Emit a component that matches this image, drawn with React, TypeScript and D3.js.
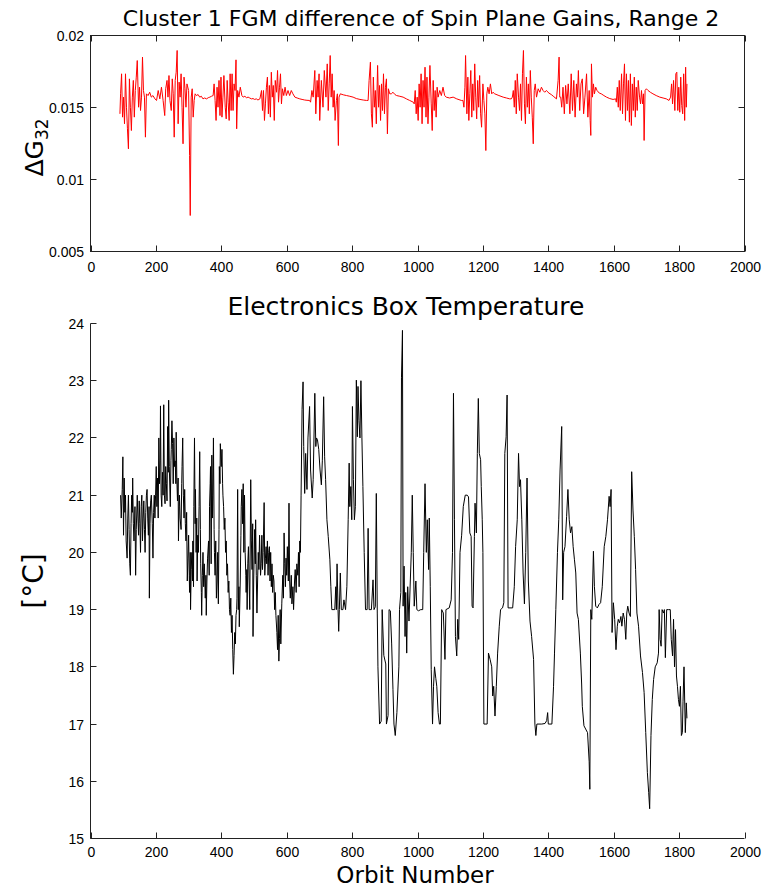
import React from "react";
import * as d3 from "d3";

// Orbit-number ticks shared by both panels
const orbitTicks = [0, 200, 400, 600, 800, 1000, 1200, 1400, 1600, 1800, 2000];
const gainTicks = [0.005, 0.01, 0.015, 0.02];
const gainTickLabels = ["0.005", "0.01", "0.015", "0.02"];
const tempTicks = [15, 16, 17, 18, 19, 20, 21, 22, 23, 24];

// Spin plane gain difference ΔG32 per orbit
const gainEarly: [number, number][] = [
  [90, 0.01456], [92, 0.01595], [95, 0.01734], [98, 0.01433], [101, 0.01572], [104, 0.01387], [107, 0.01734], [110, 0.01502],
  [113, 0.01352], [116, 0.01213], [119, 0.01699], [122, 0.01502], [125, 0.0134], [128, 0.01572], [131, 0.01688], [134, 0.01433],
  [137, 0.01618], [140, 0.01711], [143, 0.01826], [147, 0.01502], [150, 0.01641], [153, 0.01479], [156, 0.01572], [159, 0.0185],
  [162, 0.01618], [165, 0.01572], [168, 0.01294], [171, 0.01595], [176, 0.01583], [181, 0.01606], [186, 0.01572], [191, 0.01583],
  [197, 0.0156], [202, 0.01549], [207, 0.01618], [212, 0.0156], [217, 0.01641], [222, 0.01549], [227, 0.01444], [230, 0.0163],
  [234, 0.01688], [237, 0.01572], [240, 0.01722], [243, 0.01549], [247, 0.01479], [250, 0.01699], [253, 0.01595], [256, 0.01294],
  [259, 0.01688], [262, 0.01745], [265, 0.01896], [268, 0.01387], [271, 0.01676], [274, 0.01572], [277, 0.01734], [280, 0.01502],
  [283, 0.01248], [286, 0.01711], [289, 0.0163], [292, 0.01502], [295, 0.01664], [300, 0.01618], [303, 0.01167], [305, 0.0075],
  [308, 0.01572], [311, 0.0163], [314, 0.01433], [317, 0.01549], [320, 0.01595], [324, 0.01583], [329, 0.0159], [334, 0.01572],
  [339, 0.01578], [344, 0.0156], [349, 0.01566], [355, 0.0156], [360, 0.01568], [365, 0.01572], [370, 0.01578], [375, 0.01583],
  [378, 0.01664], [381, 0.01549], [384, 0.0141], [387, 0.01641], [390, 0.01502], [393, 0.01688], [396, 0.01444], [399, 0.01711],
  [402, 0.01433], [405, 0.01572], [408, 0.01722], [412, 0.01502], [415, 0.01421], [418, 0.01688], [421, 0.01537], [424, 0.0141],
  [427, 0.01734], [430, 0.01479], [433, 0.01734], [436, 0.01479], [439, 0.01664], [442, 0.01618], [445, 0.01831], [447, 0.01352],
  [450, 0.01618], [454, 0.01572], [458, 0.01641], [463, 0.01583], [467, 0.01572], [472, 0.01578], [477, 0.01568], [482, 0.01572],
  [487, 0.01566], [492, 0.0156], [497, 0.01562], [502, 0.01556], [507, 0.0156], [512, 0.01552],
  [518, 0.0156], [523, 0.01618], [526, 0.01479], [529, 0.01618], [532, 0.0141], [535, 0.01525], [538, 0.01641], [541, 0.01711],
  [544, 0.01456], [547, 0.01653], [550, 0.01433], [553, 0.01745], [556, 0.01572], [559, 0.01653], [562, 0.0141], [565, 0.01688],
  [569, 0.01606], [572, 0.01757], [575, 0.01537], [578, 0.01641], [581, 0.01734], [584, 0.01525], [587, 0.0163], [591, 0.01583],
  [595, 0.01641], [599, 0.01583], [604, 0.01618], [609, 0.01583], [614, 0.01618], [619, 0.01595], [625, 0.01572], [632, 0.01566],
  [640, 0.0156], [647, 0.01556], [655, 0.01552], [662, 0.0155], [670, 0.01549],
];

const gainMid: [number, number][] = [
  [673, 0.01537], [677, 0.01618], [681, 0.01572], [686, 0.01757], [689, 0.01456], [693, 0.01688], [696, 0.01572], [699, 0.01734],
  [701, 0.0141], [706, 0.01688], [711, 0.01502], [715, 0.01757], [720, 0.01572], [724, 0.01803], [727, 0.01479], [730, 0.01664],
  [733, 0.01861], [736, 0.01572], [739, 0.01734], [742, 0.01502], [745, 0.01618], [748, 0.0141], [752, 0.01549], [755, 0.01595],
  [758, 0.01236], [760, 0.01572], [764, 0.01595], [773, 0.01588], [783, 0.01583], [793, 0.01578], [803, 0.01572], [813, 0.01562],
  [824, 0.01556], [834, 0.01552], [844, 0.01549],
  [849, 0.01549], [852, 0.01688], [856, 0.01815], [859, 0.01456], [862, 0.01363], [865, 0.01711], [868, 0.01502], [871, 0.01618],
  [874, 0.01387], [878, 0.01792], [881, 0.01502], [884, 0.01653], [887, 0.0141], [890, 0.01664], [893, 0.01479], [896, 0.01734],
  [899, 0.01456], [902, 0.01641], [905, 0.01699], [908, 0.01317], [911, 0.0163], [915, 0.01595], [920, 0.01595], [925, 0.01606],
  [931, 0.0159], [936, 0.01583], [946, 0.01578], [956, 0.01572], [966, 0.0156], [976, 0.01549], [987, 0.01537],
  [990, 0.01525], [993, 0.01618], [996, 0.01456], [999, 0.01572], [1002, 0.0141], [1005, 0.01664], [1008, 0.01502], [1011, 0.01734],
  [1014, 0.01387], [1017, 0.01688], [1020, 0.01502], [1023, 0.0178], [1026, 0.01433], [1029, 0.01711], [1032, 0.01387], [1035, 0.01572],
  [1038, 0.01792], [1042, 0.01525], [1045, 0.0134], [1048, 0.01688], [1051, 0.01479], [1054, 0.01618], [1057, 0.01433], [1060, 0.01641],
  [1063, 0.01572], [1068, 0.01618], [1073, 0.01583], [1078, 0.01641], [1083, 0.01583], [1088, 0.01572], [1098, 0.01566], [1109, 0.01572],
  [1120, 0.0156], [1134, 0.01549],
  [1139, 0.01549], [1142, 0.01502], [1145, 0.01641], [1147, 0.01861], [1151, 0.01456], [1154, 0.01711], [1157, 0.0141], [1160, 0.01595],
  [1163, 0.01757], [1166, 0.01433], [1169, 0.01664], [1172, 0.01479], [1175, 0.01803], [1178, 0.01572], [1181, 0.01421], [1184, 0.01688],
  [1187, 0.01502], [1190, 0.01722], [1193, 0.01456], [1196, 0.01363], [1200, 0.01664], [1203, 0.01549], [1206, 0.01456], [1209, 0.01201],
  [1212, 0.01595], [1215, 0.01641], [1219, 0.01595], [1223, 0.01664], [1227, 0.01595], [1231, 0.01606], [1236, 0.01595], [1249, 0.01583],
  [1262, 0.01572], [1272, 0.01566], [1282, 0.0156],
];

const gainLate: [number, number][] = [
  [1287, 0.0156], [1290, 0.01572], [1293, 0.01618], [1296, 0.01502], [1299, 0.01688], [1302, 0.01456], [1305, 0.01734], [1309, 0.01572],
  [1312, 0.01479], [1315, 0.01664], [1318, 0.0141], [1321, 0.01734], [1324, 0.01896], [1327, 0.01525], [1330, 0.01387], [1333, 0.01711],
  [1336, 0.01502], [1339, 0.01664], [1342, 0.01456], [1345, 0.01757], [1348, 0.01572], [1351, 0.01433], [1354, 0.01248], [1357, 0.01618],
  [1360, 0.01664], [1364, 0.01572], [1369, 0.0163], [1374, 0.01606], [1379, 0.01641], [1384, 0.01618], [1389, 0.01606], [1394, 0.01618],
  [1402, 0.016], [1409, 0.0159], [1417, 0.01575], [1425, 0.0156],
  [1430, 0.01688], [1433, 0.0185], [1435, 0.01572], [1438, 0.01572], [1441, 0.01502], [1445, 0.01641], [1449, 0.01456], [1453, 0.01653],
  [1457, 0.01525], [1461, 0.01664], [1466, 0.01456], [1470, 0.01734], [1474, 0.01479], [1478, 0.01688], [1482, 0.01433], [1486, 0.01664],
  [1489, 0.01572], [1492, 0.01757], [1496, 0.01479], [1500, 0.01664], [1504, 0.01699], [1508, 0.01456], [1512, 0.01572], [1517, 0.01734],
  [1521, 0.01433], [1525, 0.01618], [1528, 0.0141], [1530, 0.01306], [1532, 0.01803], [1535, 0.01572], [1538, 0.01664], [1541, 0.01595],
  [1545, 0.01641], [1549, 0.01618], [1556, 0.016], [1562, 0.01595], [1570, 0.01583], [1578, 0.01572], [1588, 0.01562], [1598, 0.01556],
  [1606, 0.0156],
  [1608, 0.01537], [1611, 0.01641], [1614, 0.01502], [1617, 0.01688], [1620, 0.01479], [1624, 0.01734], [1627, 0.01456], [1630, 0.01664],
  [1633, 0.01803], [1636, 0.0141], [1639, 0.01734], [1642, 0.01479], [1645, 0.01688], [1648, 0.01398], [1651, 0.01734], [1654, 0.01375],
  [1657, 0.01664], [1660, 0.01479], [1663, 0.01711], [1666, 0.01433], [1669, 0.01641], [1672, 0.01479], [1675, 0.01688], [1679, 0.01572],
  [1682, 0.01525], [1685, 0.01618], [1688, 0.01525], [1691, 0.01595], [1693, 0.01271], [1696, 0.01618], [1700, 0.0163], [1705, 0.01618],
  [1712, 0.01606], [1720, 0.01595], [1730, 0.01583], [1741, 0.01572], [1751, 0.01566], [1761, 0.0156], [1769, 0.01549],
  [1774, 0.01572], [1777, 0.01664], [1780, 0.01525], [1783, 0.01688], [1787, 0.01479], [1790, 0.01734], [1793, 0.01745], [1796, 0.01479],
  [1799, 0.01641], [1802, 0.01467], [1805, 0.01711], [1808, 0.01514], [1811, 0.01456], [1814, 0.01734], [1817, 0.0141], [1820, 0.0178],
  [1822, 0.01502], [1824, 0.01664],
];

// Electronics box temperature (°C) per orbit
const tempEarly: [number, number][] = [
  [92, 21.0], [94, 20.6], [97, 21.1], [99, 21.67], [101, 20.3], [103, 21.3], [105, 20.7], [107, 21.0], [109, 20.2], [112, 19.9],
  [114, 20.6], [116, 21.0], [118, 20.4], [120, 19.8], [122, 19.6], [124, 20.5], [126, 21.0], [128, 20.7], [129, 21.3], [131, 20.5],
  [133, 20.2], [136, 20.8], [138, 19.6], [140, 20.4], [143, 21.0], [145, 20.6], [147, 20.3], [149, 20.9], [151, 20.5], [153, 20.0],
  [155, 20.8], [157, 21.0], [159, 20.2], [161, 20.6], [163, 20.9], [165, 20.4], [167, 20.0], [169, 20.7], [171, 21.0], [173, 21.1],
  [175, 20.6], [177, 20.3], [179, 20.8], [180, 19.2], [182, 20.5], [184, 20.9], [186, 21.0], [189, 20.5], [191, 19.9], [193, 20.7],
  [195, 21.0], [197, 20.6],
  [199, 21.0], [201, 21.5], [203, 20.8], [205, 21.3], [207, 20.6], [209, 22.0], [211, 21.2], [213, 21.6], [214, 22.56], [216, 21.0],
  [218, 20.8], [220, 21.4], [222, 21.0], [224, 22.58], [226, 21.0], [228, 20.85], [230, 21.5], [232, 21.2], [234, 20.9], [236, 22.2],
  [238, 21.4], [239, 22.66], [241, 21.5], [244, 20.8], [246, 21.6], [247, 21.8], [249, 22.3], [251, 21.9], [253, 21.2], [255, 22.0],
  [257, 21.5], [259, 21.6], [261, 21.2], [262, 22.1], [264, 21.3],
  [266, 20.9], [268, 21.3], [269, 20.2], [271, 20.8], [272, 21.0], [274, 20.6], [277, 20.4], [279, 21.2], [280, 21.5], [282, 22.0],
  [284, 21.0], [286, 20.6], [288, 21.1], [290, 20.5], [292, 20.2], [294, 20.7], [296, 19.5], [298, 19.9], [300, 20.3], [302, 19.6],
  [303, 19.3], [305, 20.0], [306, 19.0], [308, 19.7], [310, 20.0], [312, 19.5], [313, 20.2], [315, 19.4], [316, 20.8], [318, 22.0],
  [320, 20.5], [321, 21.1], [323, 20.0], [325, 20.6], [326, 19.5], [328, 20.3], [330, 20.0], [332, 20.8], [334, 21.76], [336, 20.4],
  [337, 19.8], [339, 19.3], [340, 18.9], [342, 19.6], [344, 20.0], [346, 19.4], [348, 19.8],
  [351, 19.2], [353, 19.6], [354, 18.9], [356, 19.5], [358, 19.9], [361, 20.2], [363, 19.6], [364, 20.8], [366, 21.2], [367, 21.5],
  [369, 19.8], [371, 21.7], [373, 20.6], [374, 21.0], [376, 22.0], [378, 20.4], [379, 20.0], [381, 19.6], [383, 20.2], [385, 19.2],
  [387, 19.5], [389, 20.0], [391, 19.1], [393, 20.4], [394, 21.5], [396, 21.2], [397, 21.9], [400, 21.5], [402, 21.8], [404, 21.2],
  [405, 21.0], [407, 20.8], [409, 20.4], [411, 20.6], [413, 20.0], [415, 20.2], [417, 19.6],
  [419, 19.8], [421, 19.3], [423, 19.5], [425, 19.0], [427, 18.9], [429, 19.2], [431, 18.6], [433, 18.9], [435, 18.3], [437, 17.87],
  [439, 18.2], [441, 18.6], [443, 18.4], [445, 18.9], [447, 19.0], [448, 19.2], [450, 21.1], [452, 19.0], [454, 19.4], [455, 18.7],
  [458, 19.5], [460, 20.3], [461, 20.8], [463, 21.1], [465, 20.5], [467, 21.2], [469, 20.0], [470, 20.6], [471, 21.0], [473, 20.0],
  [475, 19.6], [476, 19.3], [478, 19.7], [479, 19.0], [481, 19.8], [483, 20.1], [485, 19.5], [487, 19.0],
];

const tempMid: [number, number][] = [
  [490, 21.27], [492, 20.2], [494, 19.7], [496, 20.5], [497, 18.53], [499, 19.5], [502, 20.4], [504, 19.8], [505, 20.57], [507, 19.6],
  [509, 18.94], [511, 19.5], [513, 20.0], [515, 19.7], [517, 20.3], [520, 19.6], [522, 19.8], [524, 20.3], [526, 19.7], [528, 20.0],
  [531, 20.87], [533, 19.6], [535, 19.9], [537, 20.1], [539, 19.8], [541, 20.2], [543, 19.6], [545, 20.0], [547, 20.1], [549, 19.5],
  [551, 20.0], [553, 19.4], [555, 19.8], [557, 19.3], [559, 19.6], [561, 19.5], [563, 19.0], [565, 19.3], [567, 18.9], [570, 18.6],
  [572, 18.3], [574, 18.9], [576, 18.1], [578, 18.5], [580, 19.0], [582, 18.4], [585, 19.1], [588, 19.6], [590, 19.2], [592, 20.34],
  [594, 19.8], [596, 19.4], [598, 19.9], [600, 19.6], [602, 20.1], [605, 19.5], [607, 20.86], [609, 19.5], [611, 19.2], [614, 19.6],
  [616, 19.1], [619, 19.4], [621, 19.0], [624, 19.5], [626, 19.7], [629, 19.3], [631, 19.8], [634, 19.6], [636, 20.0], [638, 19.4],
  [640, 20.2], [642, 20.0], [644, 21.0], [647, 22.5], [650, 22.98],
  [652, 21.85], [655, 21.03], [658, 21.73], [662, 21.1], [665, 22.0], [670, 22.55], [673, 21.44], [678, 20.95], [681, 21.27], [686, 22.78],
  [689, 21.85], [691, 22.0], [694, 21.97], [698, 21.8], [702, 21.44], [706, 21.18], [709, 21.6], [713, 22.72], [716, 21.67], [719, 21.27],
  [723, 20.57], [727, 20.28], [732, 19.87], [735, 19.4], [738, 19.0], [747, 19.0], [750, 19.4], [752, 19.0], [754, 19.8], [757, 19.0],
  [759, 18.62], [761, 19.0], [764, 19.64], [767, 19.0], [772, 19.0], [775, 19.17], [780, 19.0], [784, 19.4], [788, 20.57], [791, 21.56],
  [793, 20.8], [796, 21.15], [799, 20.57], [801, 22.55], [804, 21.27], [807, 20.57], [810, 20.8], [813, 23.01], [816, 22.02], [818, 22.9],
  [821, 22.3], [824, 22.0], [827, 23.0], [830, 22.0], [833, 21.15], [837, 20.0], [841, 19.0], [846, 19.0], [849, 20.42], [852, 19.0],
  [859, 19.0], [864, 19.52], [867, 19.0], [871, 19.05], [874, 21.03], [877, 18.94], [879, 18.0], [884, 17.0], [889, 17.05], [892, 19.0],
  [897, 18.2], [903, 18.05], [905, 17.0], [910, 17.15], [913, 19.0], [917, 18.98], [921, 18.4], [925, 17.6], [928, 17.0], [932, 16.8],
  [937, 17.2], [943, 18.0], [945, 19.0], [949, 19.3], [951, 23.05], [954, 23.88], [956, 19.06], [959, 19.76], [962, 18.53], [964, 19.3],
  [967, 18.24], [970, 19.4], [974, 18.8], [978, 19.5], [981, 20.0], [984, 21.0], [987, 20.0], [990, 19.06], [995, 19.5], [998, 19.0],
  [1003, 18.98], [1010, 19.0], [1016, 19.0], [1019, 20.0], [1023, 21.2], [1027, 20.0], [1030, 20.57], [1034, 19.7], [1036, 20.6], [1039, 19.4],
  [1042, 17.95], [1046, 17.0], [1049, 17.66], [1052, 18.0], [1056, 17.8], [1059, 17.66], [1063, 17.2], [1067, 17.0], [1070, 17.0], [1074, 19.0],
  [1079, 18.94], [1084, 18.13], [1087, 19.0], [1097, 19.03], [1103, 19.17], [1107, 20.0], [1110, 22.78], [1113, 20.57], [1116, 18.53], [1120, 18.19],
  [1123, 18.83], [1126, 18.48], [1130, 20.0], [1135, 20.3], [1140, 20.8], [1146, 21.0], [1152, 21.0], [1156, 20.97], [1160, 20.34], [1164, 20.28],
  [1167, 19.06], [1170, 19.03], [1174, 20.28], [1176, 20.86], [1180, 20.34], [1183, 21.73], [1186, 22.69], [1189, 21.73], [1193, 21.62], [1195, 21.15],
  [1198, 20.57], [1200, 20.0],
];

const tempLate: [number, number][] = [
  [1203, 17.0], [1213, 17.0], [1217, 18.24], [1222, 18.13], [1227, 18.0], [1230, 17.49], [1233, 17.66], [1237, 17.14], [1241, 17.66], [1245, 18.24],
  [1250, 18.71], [1254, 19.0], [1260, 19.03], [1264, 19.12], [1267, 21.73], [1271, 22.02], [1274, 22.75], [1277, 19.03], [1291, 19.03], [1296, 19.4],
  [1300, 20.1], [1305, 20.57], [1309, 21.73], [1312, 21.15], [1315, 21.27], [1319, 20.57], [1323, 19.64], [1327, 19.1], [1331, 20.0], [1335, 21.3],
  [1339, 19.5], [1344, 18.8], [1349, 18.53], [1355, 18.13], [1359, 17.0], [1362, 16.8], [1365, 17.0], [1380, 17.0], [1390, 17.01], [1395, 17.06],
  [1398, 17.2], [1400, 17.0], [1411, 17.0], [1416, 17.66], [1419, 18.24], [1423, 19.0], [1428, 20.0], [1432, 20.57], [1436, 21.44], [1441, 22.2],
  [1444, 19.17], [1447, 20.0], [1451, 20.1], [1456, 20.63], [1460, 21.1], [1464, 20.57], [1468, 20.34], [1472, 20.45], [1476, 20.1], [1480, 19.87],
  [1484, 19.64], [1488, 18.94], [1492, 18.83], [1498, 18.24], [1502, 17.7], [1504, 17.31], [1509, 16.97], [1520, 16.85], [1525, 16.34], [1527, 15.86],
  [1530, 19.0], [1533, 18.83], [1538, 20.02], [1541, 19.4], [1545, 19.06], [1550, 19.03], [1555, 19.09], [1560, 19.12], [1565, 19.4], [1571, 20.1],
  [1576, 20.28], [1581, 20.57], [1586, 20.98], [1589, 20.8], [1592, 21.1], [1595, 18.6], [1599, 19.12], [1603, 18.83], [1607, 18.3], [1611, 18.71],
  [1614, 18.83], [1618, 18.77], [1622, 18.88], [1625, 18.71], [1629, 18.94], [1633, 18.83], [1637, 18.48], [1640, 18.94], [1643, 19.06], [1647, 18.94],
  [1651, 18.88], [1655, 21.41], [1659, 20.74], [1663, 20.28], [1667, 19.7], [1671, 18.94], [1676, 18.71], [1682, 18.19], [1688, 17.9], [1693, 17.55],
  [1698, 16.85], [1703, 16.15], [1707, 15.8], [1710, 15.52], [1714, 16.8], [1718, 17.43], [1722, 17.78], [1727, 18.0], [1733, 18.07], [1737, 18.24],
  [1739, 19.0], [1742, 18.48], [1745, 18.36], [1748, 19.0], [1752, 18.94], [1755, 19.0], [1758, 18.16], [1762, 19.0], [1768, 19.0], [1773, 19.0],
  [1776, 18.48], [1780, 18.19], [1783, 18.83], [1786, 18.0], [1789, 18.65], [1792, 17.84], [1795, 17.66], [1798, 17.43], [1801, 17.31], [1804, 17.66],
  [1807, 16.8], [1810, 16.85], [1812, 17.4], [1815, 18.0], [1819, 16.85], [1822, 17.37], [1824, 17.1],
];

const gainSeries = [...gainEarly, ...gainMid, ...gainLate];
const tempSeries = [...tempEarly, ...tempMid, ...tempLate];

const W = 762;
const H = 888;
const LEFT = 90.5;
const RIGHT = 744.5;
const TOP1 = 35.5;
const BOT1 = 251.5;
const TOP2 = 323.5;
const BOT2 = 838.5;
const TICK = 6;
const AXIS = "#222";
const TICK_FONT = "'Liberation Sans', Arial, sans-serif";
const TITLE_FONT = "'DejaVu Sans', Verdana, sans-serif";

export default function App() {
  const x = d3.scaleLinear().domain([0, 2000]).range([LEFT, RIGHT]);
  const yGain = d3.scaleLinear().domain([0.005, 0.02]).range([BOT1, TOP1]);
  const yTemp = d3.scaleLinear().domain([15, 24]).range([BOT2, TOP2]);

  const gainLine = d3
    .line<[number, number]>()
    .x((d) => x(d[0]))
    .y((d) => yGain(d[1]));
  const tempLine = d3
    .line<[number, number]>()
    .x((d) => x(d[0]))
    .y((d) => yTemp(d[1]));

  return (
    <svg
      width={W}
      height={H}
      viewBox={`0 0 ${W} ${H}`}
      style={{ position: "absolute", left: 0, top: 0, background: "#fff" }}
    >
      <rect x={0} y={0} width={W} height={H} fill="#fff" />

      {/* Upper panel: gain difference */}
      <text
        x={421}
        y={26}
        textAnchor="middle"
        fontFamily={TITLE_FONT}
        fontSize={22}
        fill="#000"
      >
        Cluster 1 FGM difference of Spin Plane Gains, Range 2
      </text>
      <path d={gainLine(gainSeries) ?? ""} fill="none" stroke="#ff0000" strokeWidth={1} />
      <rect x={LEFT} y={TOP1} width={RIGHT - LEFT} height={BOT1 - TOP1} fill="none" stroke={AXIS} strokeWidth={1} />
      {orbitTicks.map((t) => {
        const px = Math.round(x(t)) + 0.5;
        return (
          <g key={`gx${t}`}>
            <line x1={px} x2={px} y1={BOT1} y2={BOT1 - TICK} stroke={AXIS} />
            <line x1={px} x2={px} y1={TOP1} y2={TOP1 + TICK} stroke={AXIS} />
            <text x={px} y={272} textAnchor="middle" fontFamily={TICK_FONT} fontSize={14} fill="#000">
              {t}
            </text>
          </g>
        );
      })}
      {gainTicks.map((t, i) => {
        const py = Math.round(yGain(t) - 0.5) + 0.5;
        return (
          <g key={`gy${t}`}>
            <line x1={LEFT} x2={LEFT + TICK} y1={py} y2={py} stroke={AXIS} />
            <line x1={RIGHT} x2={RIGHT - TICK} y1={py} y2={py} stroke={AXIS} />
            <text x={84} y={py + 5} textAnchor="end" fontFamily={TICK_FONT} fontSize={14} fill="#000">
              {gainTickLabels[i]}
            </text>
          </g>
        );
      })}
      <text
        transform={`translate(43,${(TOP1 + BOT1) / 2 + 4}) rotate(-90)`}
        textAnchor="middle"
        fontFamily={TITLE_FONT}
        fontSize={25}
        fill="#000"
      >
        ΔG
        <tspan fontSize={17} dy={5}>
          32
        </tspan>
      </text>

      {/* Lower panel: electronics box temperature */}
      <text
        x={406}
        y={315}
        textAnchor="middle"
        fontFamily={TITLE_FONT}
        fontSize={25}
        fill="#000"
      >
        Electronics Box Temperature
      </text>
      <path d={tempLine(tempSeries) ?? ""} fill="none" stroke="#000" strokeWidth={1} />
      <line x1={LEFT} x2={LEFT} y1={TOP2} y2={BOT2} stroke={AXIS} />
      <line x1={LEFT} x2={RIGHT} y1={BOT2} y2={BOT2} stroke={AXIS} />
      {orbitTicks.map((t) => {
        const px = Math.round(x(t)) + 0.5;
        return (
          <g key={`tx${t}`}>
            <line x1={px} x2={px} y1={BOT2} y2={BOT2 - TICK} stroke={AXIS} />
            <text x={px} y={857} textAnchor="middle" fontFamily={TICK_FONT} fontSize={14} fill="#000">
              {t}
            </text>
          </g>
        );
      })}
      {tempTicks.map((t) => {
        const py = Math.round(yTemp(t) - 0.5) + 0.5;
        return (
          <g key={`ty${t}`}>
            <line x1={LEFT} x2={LEFT + TICK} y1={py} y2={py} stroke={AXIS} />
            <text x={84} y={py + 5} textAnchor="end" fontFamily={TICK_FONT} fontSize={14} fill="#000">
              {t}
            </text>
          </g>
        );
      })}
      <text
        transform={`translate(43,${(TOP2 + BOT2) / 2}) rotate(-90)`}
        textAnchor="middle"
        fontFamily={TITLE_FONT}
        fontSize={28}
        fill="#000"
      >
        [°C]
      </text>
      <text
        x={415}
        y={882.5}
        textAnchor="middle"
        fontFamily={TITLE_FONT}
        fontSize={23}
        fill="#000"
      >
        Orbit Number
      </text>
    </svg>
  );
}
